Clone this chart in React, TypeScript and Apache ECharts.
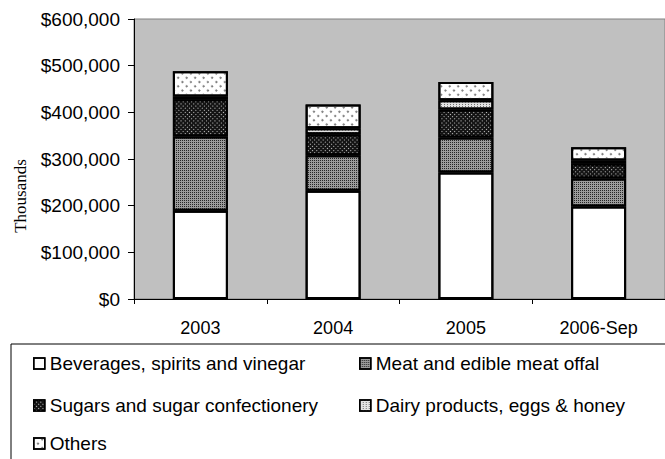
import React, { useEffect, useRef } from "react";
import * as echarts from "echarts";

const categories = ["2003", "2004", "2005", "2006-Sep"];
const seriesNames = [
  "Beverages, spirits and vinegar",
  "Meat and edible meat offal",
  "Sugars and sugar confectionery",
  "Dairy products, eggs & honey",
  "Others",
];
const beverages = [189000, 232000, 271000, 198000];
const meat = [159000, 76000, 75000, 60000];
const sugars = [80000, 45000, 60000, 32000];
const dairy = [6000, 13000, 20000, 7000];
const others = [54000, 51000, 39000, 28000];
const yTicks = [0, 100000, 200000, 300000, 400000, 500000, 600000];
const yTitle = "Thousands";

const FONT = "Liberation Sans";

export default function App() {
  const ref = useRef<HTMLDivElement>(null);
  useEffect(() => {
    if (!ref.current) return;
    const chart = echarts.init(ref.current, null, { renderer: "svg" });
    const values = [beverages, meat, sugars, dairy, others];
    const fills = ["#ffffff", "#9c9c9c", "#141414", "#e4e4e4", "#ffffff"];
    const decals: any[] = [
      { symbol: "none" },
      { symbol: "rect", symbolSize: 1, color: "#262626", dashArrayX: [1, 1], dashArrayY: [1, 1] },
      { symbol: "rect", symbolSize: 1, color: "#c8c8c8", dashArrayX: [1, 2], dashArrayY: [1, 2] },
      { symbol: "rect", symbolSize: 1, color: "#707070", dashArrayX: [1, 2], dashArrayY: [1, 1] },
      { symbol: "circle", symbolSize: 1, color: "#6a6a6a", dashArrayX: [2, 4], dashArrayY: [2, 4] },
    ];
    const legendPos = [
      { left: 33, top: 354 },
      { left: 359, top: 354 },
      { left: 33, top: 396 },
      { left: 359, top: 396 },
      { left: 33, top: 434 },
    ];
    chart.setOption({
      animation: false,
      aria: { enabled: true, label: { enabled: false }, decal: { show: true } },
      grid: {
        left: 134,
        top: 19,
        right: -5,
        bottom: 160,
        show: true,
        backgroundColor: "#c0c0c0",
        borderColor: "#808080",
        borderWidth: 1,
      },
      graphic: [
        {
          type: "rect",
          shape: { x: 11, y: 344, width: 700, height: 200 },
          style: { fill: "none", stroke: "#000", lineWidth: 1 },
          silent: true,
        },
        {
          type: "text",
          x: 20,
          y: 196,
          rotation: Math.PI / 2,
          style: {
            text: yTitle,
            fontFamily: "Liberation Serif",
            fontSize: 17,
            fill: "#000",
            align: "center",
            verticalAlign: "middle",
          },
          silent: true,
        },
      ],
      legend: seriesNames.map((n, i) => ({
        data: [n],
        left: legendPos[i].left,
        top: legendPos[i].top,
        padding: 0,
        itemWidth: 11,
        itemHeight: 11,
        icon: "rect",
        selectedMode: false,
        itemStyle: { borderColor: "#000", borderWidth: 1.5 },
        textStyle: { fontFamily: FONT, fontSize: 19, color: "#000" },
      })),
      xAxis: {
        type: "category",
        data: categories,
        axisLine: { lineStyle: { color: "#000", width: 1 } },
        axisTick: { show: true, length: 5, lineStyle: { color: "#000" } },
        axisLabel: { fontFamily: FONT, fontSize: 18, color: "#000", margin: 20 },
      },
      yAxis: {
        type: "value",
        min: 0,
        max: yTicks[yTicks.length - 1],
        interval: yTicks[1] - yTicks[0],
        splitLine: { show: false },
        axisLine: { show: true, lineStyle: { color: "#000", width: 1 } },
        axisTick: { show: true, inside: false, length: 6, lineStyle: { color: "#000" } },
        axisLabel: {
          fontFamily: FONT,
          fontSize: 19,
          color: "#000",
          margin: 14,
          formatter: (v: number) => "$" + v.toLocaleString("en-US"),
        },
      },
      series: seriesNames.map((n, i) => ({
        name: n,
        type: "bar",
        stack: "total",
        barWidth: 55,
        data: values[i],
        itemStyle: {
          color: fills[i],
          borderColor: "#000",
          borderWidth: 2,
          decal: decals[i],
        },
      })),
    });
    return () => chart.dispose();
  }, []);
  return (
    <div
      ref={ref}
      style={{ position: "fixed", left: 0, top: 0, width: 665, height: 459, background: "#fff" }}
    />
  );
}
